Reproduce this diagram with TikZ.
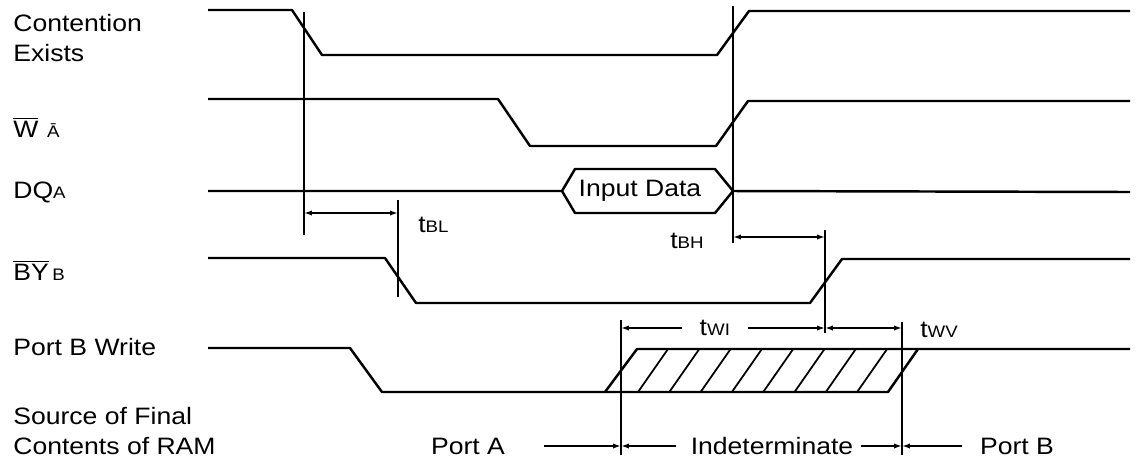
\documentclass[tikz,border=0pt]{standalone}
\usepackage{fontspec}
\setmainfont[FakeStretch=1.12]{Liberation Sans}
\usetikzlibrary{arrows.meta, positioning}

\newcommand{\lowsub}[1]{{\fontsize{9.5pt}{10pt}\selectfont #1}}

\begin{document}
\begin{tikzpicture}[
		x=0.02cm, y=-0.02cm,
		wave/.style={line width=1.4pt, line join=round},
		guide/.style={line width=1pt},
		hatch/.style={line width=1pt},
		dim/.style={{Latex[length=4.5pt,width=3pt]}-{Latex[length=4.5pt,width=3pt]}, line width=0.9pt},
		half/.style={-{Latex[length=4.5pt,width=3pt]}, line width=0.9pt},
		sig/.style={anchor=base west, inner sep=0pt, font=\fontsize{13.5}{17}\selectfont},
		lbl/.style={inner sep=0pt, font=\fontsize{13.5}{17}\selectfont}
	]
	\useasboundingbox (0,0) rectangle (1138,468);

	\node[sig, anchor=north west, align=left] (ce) at (13,14) {Contention\\Exists};
	\node[sig] (wa) at (13,137) {$\overline{\mbox{W}}$\hspace{5pt}\lowsub{\=A}};
	\node[sig] (dq) at (13,198) {DQ\lowsub{A}};
	\node[sig] (by) at (13,280) {$\overline{\mbox{BY}}$\hspace{2pt}\lowsub{B}};
	\node[sig] (pbw) at (13,355) {Port B Write};
	\node[sig, anchor=north west, align=left] (src) at (13,407) {Source of Final\\Contents of RAM};

	\draw[wave] (208,10) -- (292,10) -- (322,55) -- (717,55) -- (749,11) -- (1130,11);
	\draw[wave] (208,99) -- (498,99) -- (530,146) -- (716,146) -- (748,101) -- (1130,101);
	\draw[wave] (208,191) -- (562,191) -- (575,169) -- (715,169) -- (733,191) -- (715,213) -- (575,213) -- (562,191);
	\draw[wave] (733,191) -- (1130,192);
	\node[lbl] (din) at (640,191) {Input Data};
	\draw[wave] (208,258) -- (385,258) -- (416,303) -- (810,303) -- (842,259) -- (1130,259);
	\draw[wave] (208,348) -- (350,348) -- (382,392) -- (888,392) -- (918,349) -- (1130,349);
	\draw[wave] (605,392) -- (637,349) -- (918,349);
	\foreach \i in {0,...,7}
		\draw[hatch] (638+31.3*\i,392) -- ++(30,-43);

	\draw[guide] (304,12) -- (304,235);
	\draw[guide] (733,6) -- (733,243);
	\draw[guide] (398,200) -- (398,297);
	\draw[guide] (825,230) -- (825,333);
	\draw[guide] (621,320) -- (621,455);
	\draw[guide] (902,322) -- (902,455);

	\coordinate (bl1) at (304,213);
	\coordinate (bl2) at (398,213);
	\coordinate (bh1) at (733,237);
	\coordinate (bh2) at (825,237);
	\coordinate (wi1) at (621,328);
	\coordinate (wi2) at (825,328);
	\coordinate (wv2) at (902,328);
	\coordinate (sa) at (621,446);
	\coordinate (sb) at (902,446);

	\draw[dim] (bl1) -- (bl2);
	\node[sig] (tbl) at (418,232) {t\lowsub{BL}};
	\draw[dim] (bh1) -- (bh2);
	\node[sig] (tbh) at (670,248) {t\lowsub{BH}};
	\draw[dim] (wi1) -- node[pos=0.46, fill=white, inner xsep=10pt, inner ysep=1pt, font=\fontsize{13.5}{17}\selectfont] (twi) {t\lowsub{WI}} (wi2);
	\draw[dim] (wi2) -- (wv2);
	\node[sig] (twv) at (920,337) {t\lowsub{WV}};

	\node[lbl] (pa) at (468,446) {Port A};
	\node[lbl] (ind) at (772,446) {Indeterminate};
	\node[lbl] (pb) at (1017,446) {Port B};
	\draw[half, shorten <=22pt] (pa) -- (sa);
	\draw[half, shorten <=8pt] (ind) -- (sa);
	\draw[half, shorten <=4pt] (ind) -- (sb);
	\draw[half, shorten <=10pt] (pb) -- (sb);
\end{tikzpicture}
\end{document}
